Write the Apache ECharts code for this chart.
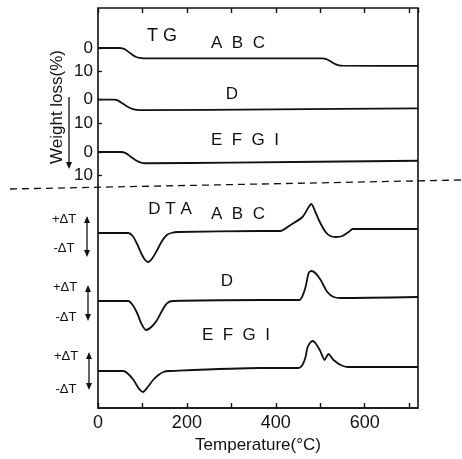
<!DOCTYPE html>
<html><head><meta charset="utf-8">
<script src="https://cdn.jsdelivr.net/npm/echarts@6/dist/echarts.min.js"></script>
<style>html,body{margin:0;padding:0;background:#fff}#c{width:462px;height:459px}</style>
</head><body><div id="c"></div>
<script>
// Temperature axis
const tempMin = 0, tempMax = 720;
const tempTickLabels = [0, 200, 400, 600];
const tgTickLabels = [0, 10];

// TG curves: [temperature (°C), weight loss (%)]
const tgABC = [[0,0],[48,0],[55,0.2],[62,0.8],[70,1.9],[78,3.0],[86,3.9],[94,4.3],[102,4.5],[505,4.5],[512,4.7],[520,5.4],[530,6.6],[540,7.4],[550,7.7],[720,7.8]];
const tgD = [[0,0],[36,0],[44,0.4],[52,1.3],[61,2.4],[70,3.4],[79,4.1],[88,4.4],[100,4.5],[400,4.2],[720,3.8]];
const tgEFGI = [[0,0],[52,0],[60,0.3],[68,1.2],[76,2.4],[84,3.5],[92,4.3],[101,4.8],[115,4.9],[300,4.6],[720,3.8]];

// DTA curves: [temperature (°C), ΔT (arbitrary units)]
const dtaABC = [[0,0],[68,0],[78,-3],[88,-11],[98,-21],[106,-27],[113,-29],[121,-26],[132,-18],[144,-8],[155,-2],[165,0],[180,1],[365,2],[410,2],[433,8],[460,16],[474,26],[480,29],[490,20],[499,11],[512,1],[523,-3],[535,-4],[550,-3],[564,1],[573,4],[720,4]];
const dtaD = [[0,0],[68,0],[78,-4],[88,-12],[98,-23],[108,-29],[120,-26],[133,-19],[145,-9],[156,-2],[169,0],[365,1],[453,1],[460,5],[467,14],[474,28],[480,30],[489,28],[501,21],[516,9],[530,4],[546,3],[720,4]];
const dtaEFGI = [[0,0],[57,0],[68,-3],[80,-9],[91,-17],[101,-21],[112,-16],[124,-9],[136,-4],[147,-1],[160,0],[365,3],[451,3],[460,6],[467,14],[471,23],[477,28],[483,30],[489,28],[499,21],[510,11],[515,15],[519,17],[523,15],[530,11],[546,6],[562,4],[720,4]];

const INK = '#111';
const FONT = 'Liberation Sans, Arial, sans-serif';
const L = 98, W = 320;

const grids = [
  {left: L, top: 8, width: W, height: 404, show: true, borderColor: INK, borderWidth: 1.6, backgroundColor: 'transparent'},
  {left: L, top: 48, width: W, height: 23},
  {left: L, top: 99.5, width: W, height: 23.5},
  {left: L, top: 152, width: W, height: 23},
  {left: L, top: 193, width: W, height: 80},
  {left: L, top: 261, width: W, height: 80},
  {left: L, top: 331, width: W, height: 80}
];

const xAxes = [
  {gridIndex: 0, type: 'value', position: 'bottom', min: tempMin, max: tempMax, interval: 100,
   axisLine: {show: true, lineStyle: {color: INK, width: 1.6}},
   axisTick: {show: true, inside: true, length: 5, lineStyle: {color: INK, width: 1.4}},
   axisLabel: {color: INK, fontSize: 18, fontFamily: FONT, margin: 6, showMaxLabel: false,
     formatter: v => tempTickLabels.includes(v) ? String(v) : ''},
   splitLine: {show: false},
   name: 'Temperature(°C)', nameLocation: 'middle', nameGap: 29,
   nameTextStyle: {color: INK, fontSize: 17, fontFamily: FONT}},
  {gridIndex: 0, type: 'value', position: 'top', min: tempMin, max: tempMax, interval: 100,
   axisLine: {show: false}, axisTick: {show: true, inside: true, length: 5, lineStyle: {color: INK, width: 1.4}},
   axisLabel: {show: false}, splitLine: {show: false}}
];
for (let g = 1; g <= 6; g++) {
  xAxes.push({gridIndex: g, type: 'value', min: tempMin, max: tempMax, show: false});
}

const yAxes = [{gridIndex: 0, type: 'value', min: 0, max: 1, show: false}];
for (let g = 1; g <= 3; g++) {
  yAxes.push({gridIndex: g, type: 'value', inverse: true, min: tgTickLabels[0], max: tgTickLabels[1], interval: 10,
    axisLine: {show: false},
    axisTick: {show: true, inside: true, length: 4, lineStyle: {color: INK, width: 1.3}},
    axisLabel: {color: INK, fontSize: 17, fontFamily: FONT, margin: 5},
    splitLine: {show: false}});
}
for (let g = 4; g <= 6; g++) {
  yAxes.push({gridIndex: g, type: 'value', min: -40, max: 40, show: false});
}

function curve(data, idx) {
  return {type: 'line', data: data, xAxisIndex: idx + 1, yAxisIndex: idx, showSymbol: false, smooth: 0.25,
    lineStyle: {color: INK, width: 1.8}, silent: true};
}

const series = [
  curve(tgABC, 1), curve(tgD, 2), curve(tgEFGI, 3),
  curve(dtaABC, 4), curve(dtaD, 5), curve(dtaEFGI, 6)
];

function txt(s, x, y, size, extra) {
  return Object.assign({type: 'text', style: {text: s, x: x, y: y, fill: INK, font: (size) + 'px ' + FONT,
    textAlign: 'center', textVerticalAlign: 'middle'}}, extra || {});
}
function vArrow(x, y1, y2, up, down) {
  const els = [{type: 'line', shape: {x1: x, y1: y1 + (up ? 2 : 0), x2: x, y2: y2 - (down ? 2 : 0)}, style: {stroke: INK, lineWidth: 1.3}}];
  if (up) els.push({type: 'polygon', shape: {points: [[x, y1 - 1], [x - 3, y1 + 6], [x + 3, y1 + 6]]}, style: {fill: INK}});
  if (down) els.push({type: 'polygon', shape: {points: [[x, y2 + 1], [x - 3, y2 - 6], [x + 3, y2 - 6]]}, style: {fill: INK}});
  return els;
}

const graphic = [
  txt('T G', 162, 36, 18),
  txt('A  B  C', 238, 43, 17),
  txt('D', 232, 94, 17),
  txt('E  F  G  I', 245, 140, 17),
  txt('D T A', 170, 209, 17),
  txt('A  B  C', 238, 214, 17),
  txt('D', 227, 281, 17),
  txt('E  F  G  I', 236, 335, 17),
  txt('+ΔT', 64, 219, 13),
  txt('-ΔT', 64, 248, 13),
  txt('+ΔT', 65, 287, 13),
  txt('-ΔT', 66, 317, 13),
  txt('+ΔT', 66, 356, 13),
  txt('-ΔT', 66, 389, 13),
  {type: 'text', rotation: Math.PI / 2, x: 57, y: 107,
   style: {text: 'Weight loss(%)', x: 0, y: 0, fill: INK, font: '17px ' + FONT, textAlign: 'center', textVerticalAlign: 'middle'}},
  {type: 'line', shape: {x1: 10, y1: 189, x2: 462, y2: 180}, style: {stroke: INK, lineWidth: 1.3, lineDash: [7, 5]}}
].concat(vArrow(69, 97, 168, false, true), vArrow(87, 217, 256, true, true), vArrow(88, 286, 320, true, true), vArrow(89, 353, 389, true, true));

const chart = echarts.init(document.getElementById('c'), null, {renderer: 'canvas'});
chart.setOption({
  animation: false,
  backgroundColor: '#fff',
  grid: grids,
  xAxis: xAxes,
  yAxis: yAxes,
  series: series,
  graphic: graphic
});
</script></body></html>
